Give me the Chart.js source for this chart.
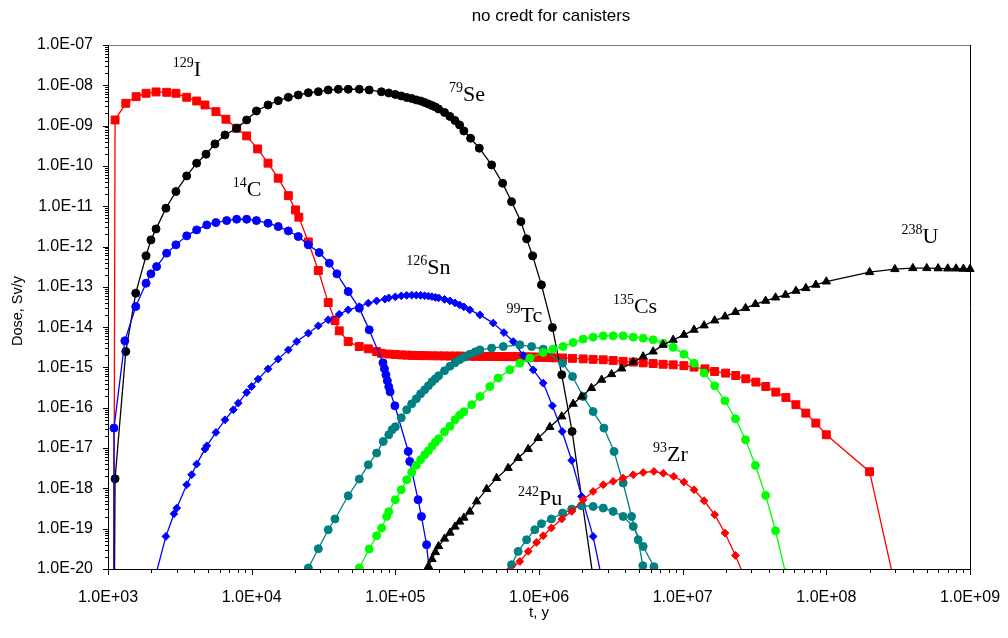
<!DOCTYPE html>
<html><head><meta charset="utf-8">
<script src="https://cdn.jsdelivr.net/npm/chart.js@4"></script>
<style>html,body{margin:0;padding:0;background:#fff}canvas{display:block}</style>
</head><body>
<canvas id="c" width="1008" height="638"></canvas>
<script>
const xTicks=[1e3,1e4,1e5,1e6,1e7,1e8,1e9];
const yTicks=[1e-20,1e-19,1e-18,1e-17,1e-16,1e-15,1e-14,1e-13,1e-12,1e-11,1e-10,1e-9,1e-8,1e-7];

const I_t=[1090,1120,1330,1570,1840,2160,2560,2970,3530,4140,4730,5640,6620,7860,9230,1.1e4,1.3e4,1.53e4,1.8e4,2.02e4,2.13e4,2.48e4,2.91e4,3.41e4,3.8e4,4.07e4,4.7e4,5.61e4,6.48e4,7.41e4,
8e4,9e4,1e5,1.1e5,1.2e5,1.3e5,1.4e5,1.5e5,1.6e5,1.8e5,2e5,2.2e5,2.4e5,2.6e5,2.8e5,3e5,3.3e5,3.6e5,4e5,4.4e5,4.8e5,5.2e5,5.6e5,6e5,6.5e5,7e5,7.5e5,8e5,8.5e5,9e5,9.5e5,1e6,1.1e6,1.2e6,1.3e6,
1.46e6,1.71e6,2.03e6,2.38e6,2.8e6,3.28e6,3.85e6,4.53e6,5.31e6,6.23e6,7.31e6,8.59e6,1.02e7,1.2e7,1.43e7,1.67e7,1.99e7,2.34e7,2.75e7,3.23e7,3.79e7,4.45e7,5.23e7,6.14e7,7.2e7,8.45e7,1e8,2e8,3e8];
const I_d=[1e-25,1.38e-9,3.58e-9,5.22e-9,6.34e-9,6.84e-9,6.71e-9,6.34e-9,5.05e-9,4.08e-9,3.25e-9,2.22e-9,1.44e-9,8.6e-10,5.55e-10,2.64e-10,1.17e-10,4.96e-11,1.83e-11,8.1e-12,5.35e-12,1.3e-12,2.54e-13,4.07e-14,1.46e-14,8.1e-15,4.4e-15,3.3e-15,2.9e-15,2.48e-15,
2.25e-15,2.15e-15,2.1e-15,2.05e-15,2.02e-15,2.0e-15,1.98e-15,1.97e-15,1.96e-15,1.95e-15,1.94e-15,1.93e-15,1.92e-15,1.92e-15,1.91e-15,1.9e-15,1.9e-15,1.89e-15,1.88e-15,1.88e-15,1.87e-15,1.87e-15,1.86e-15,1.86e-15,1.85e-15,1.85e-15,1.84e-15,1.83e-15,1.82e-15,1.81e-15,1.8e-15,1.79e-15,1.77e-15,1.75e-15,1.73e-15,
1.72e-15,1.68e-15,1.63e-15,1.59e-15,1.55e-15,1.49e-15,1.42e-15,1.36e-15,1.3e-15,1.25e-15,1.2e-15,1.16e-15,1.11e-15,1.02e-15,9.25e-16,7.94e-16,7.24e-16,6.31e-16,5.23e-16,4.33e-16,3.37e-16,2.45e-16,1.8e-16,1.19e-16,7.38e-17,4.17e-17,2.14e-17,2.59e-18,4e-21];

const Se_t=[1090,1120,1330,1560,1840,1990,2160,2530,2970,3530,4140,4810,5550,6520,7860,9230,1.08e4,1.3e4,1.53e4,1.8e4,2.11e4,2.48e4,2.91e4,3.41e4,4.01e4,4.7e4,5.61e4,6.58e4,
8e4,9e4,1e5,1.1e5,1.2e5,1.3e5,1.4e5,1.5e5,1.6e5,1.7e5,1.8e5,1.9e5,2e5,2.2e5,2.4e5,2.6e5,2.8e5,3e5,
3.34e5,3.84e5,4.68e5,5.58e5,6.44e5,7.48e5,8.2e5,9.03e5,1.04e6,1.24e6,1.44e6,1.7e6,2.5e6];
const Se_d=[1e-25,1.73e-18,2.48e-15,6.97e-14,5.86e-13,1.46e-12,2.74e-12,8.93e-12,2.31e-11,5.65e-11,1.17e-10,1.95e-10,3.51e-10,5.86e-10,8.6e-10,1.38e-9,2.31e-9,3.25e-9,4.16e-9,5.05e-9,5.75e-9,6.56e-9,6.95e-9,7.66e-9,7.98e-9,7.98e-9,7.98e-9,7.66e-9,
6.91e-9,6.46e-9,5.93e-9,5.44e-9,4.99e-9,4.71e-9,4.33e-9,4.09e-9,3.75e-9,3.44e-9,3.16e-9,2.9e-9,2.59e-9,2.12e-9,1.69e-9,1.34e-9,1.04e-9,7.37e-10,
4.86e-10,2.75e-10,1.06e-10,3.72e-11,1.3e-11,4.16e-12,1.55e-12,5.86e-13,1.12e-13,9.77e-15,6.58e-16,2.58e-17,1.8e-21];

const C_t=[1090,1100,1310,1560,1840,1990,2180,2560,2970,3530,4140,4870,5640,6700,7860,9230,1.08e4,1.3e4,1.53e4,1.8e4,2.11e4,2.48e4,2.95e4,3.47e4,3.92e4,4.7e4,5.61e4,6.58e4,8.2e4,8.4e4,8.6e4,8.8e4,9e4,9.2e4,9.93e4,1.23e5,1.26e5,1.44e5,1.52e5,1.65e5,1.8e5];
const C_d=[1e-25,3.13e-17,4.58e-15,3.24e-14,1.23e-13,2.1e-13,3.18e-13,6.84e-13,1.1e-12,1.84e-12,2.59e-12,3.44e-12,3.93e-12,4.4e-12,4.76e-12,4.76e-12,4.4e-12,3.79e-12,3.13e-12,2.44e-12,1.77e-12,1.1e-12,7.08e-13,3.86e-13,2.1e-13,7.64e-14,2.96e-14,8.57e-15,1.3e-15,9.25e-16,6.58e-16,4.67e-16,3.31e-16,2.49e-16,1.12e-16,8.24e-18,4.66e-18,5.22e-19,2.01e-19,4e-20,2e-21];

const Sn_t=[2e3,2.53e3,2.88e3,3.01e3,3.53e3,3.82e3,4.14e3,4.73e3,4.87e3,5.64e3,6.52e3,7.45e3,8.07e3,9.23e3,1e4,1.11e4,1.3e4,1.53e4,1.8e4,2.06e4,2.48e4,2.91e4,3.41e4,4.07e4,4.7e4,5.61e4,6.48e4,7.41e4,8.47e4,
9e4,1e5,1.1e5,1.2e5,1.3e5,1.4e5,1.5e5,1.6e5,1.7e5,1.8e5,1.9e5,2e5,2.2e5,2.4e5,2.6e5,2.8e5,3e5,3.3e5,
3.88e5,4.8e5,5.7e5,6.61e5,7.78e5,9.11e5,1.07e6,1.24e6,1.45e6,1.69e6,1.98e6,2.38e6,2.8e6];
const Sn_d=[2.7e-21,6.43e-20,2.35e-19,3.25e-19,1.23e-18,2.18e-18,4.01e-18,9.44e-18,1.14e-17,2.44e-17,5.03e-17,8.91e-17,1.31e-16,2.39e-16,3.37e-16,5.14e-16,9.25e-16,1.61e-15,2.73e-15,4.4e-15,7.09e-15,1.08e-14,1.52e-14,2.1e-14,2.69e-14,3.24e-14,3.94e-14,4.49e-14,4.95e-14,
5.33e-14,5.65e-14,5.98e-14,6.15e-14,6.22e-14,6.22e-14,6.15e-14,6.04e-14,5.87e-14,5.71e-14,5.48e-14,5.33e-14,4.89e-14,4.49e-14,4.01e-14,3.57e-14,3.19e-14,2.69e-14,
2.02e-14,1.26e-14,7.34e-15,4.4e-15,2.0e-15,8.73e-16,4.09e-16,1.12e-16,2.58e-17,4.93e-18,6.31e-19,6.43e-20,3.9e-21];

const Tc_t=[2.2e4,2.48e4,2.91e4,3.41e4,3.8e4,4.7e4,5.61e4,6.48e4,7.41e4,8.24e4,9e4,9.5e4,1e5,1.1e5,1.2e5,1.3e5,1.4e5,1.5e5,1.6e5,1.7e5,1.8e5,1.9e5,2e5,2.2e5,2.4e5,2.6e5,2.8e5,3e5,3.3e5,3.6e5,3.88e5,4.68e5,5.64e5,7.36e5,8.88e5,1.07e6,1.46e6,1.71e6,2.03e6,2.38e6,2.83e6,3.33e6,3.85e6,4.41e6,4.9e6,5.28e6,6e6];
const Tc_d=[1e-21,1.06e-20,3.18e-20,9.42e-20,1.74e-19,6.56e-19,1.7e-18,3.85e-18,7.52e-18,1.46e-17,2.14e-17,2.85e-17,3.37e-17,5.64e-17,8.91e-17,1.25e-16,1.67e-16,2.22e-16,2.79e-16,3.51e-16,4.41e-16,5.23e-16,6.21e-16,8.26e-16,1.07e-15,1.3e-15,1.55e-15,1.78e-15,2.12e-15,2.44e-15,2.73e-15,3.02e-15,3.3e-15,3.64e-15,3.3e-15,2.85e-15,1.28e-15,5.96e-16,1.9e-16,8.07e-17,3.13e-17,8.24e-18,1.36e-18,2.01e-19,5.32e-20,1.21e-20,1e-22];

const Cs_t=[5e4,5.61e4,6.58e4,7.41e4,8.03e4,8.7e4,9e4,1e5,1.1e5,1.2e5,1.3e5,1.4e5,1.5e5,1.6e5,1.7e5,1.8e5,1.9e5,2e5,2.2e5,2.4e5,2.6e5,2.8e5,3e5,3.4e5,3.88e5,4.55e5,5.2e5,6.27e5,7.36e5,8.64e5,1.07e6,1.25e6,1.47e6,1.73e6,2.03e6,2.38e6,2.8e6,3.28e6,3.85e6,4.53e6,5.31e6,6.23e6,7.31e6,8.59e6,1.02e7,1.2e7,1.41e7,1.67e7,1.97e7,2.33e7,2.74e7,3.21e7,3.78e7,4.43e7,5.2e7];
const Cs_d=[1e-21,1.06e-20,3.13e-20,6.68e-20,1.04e-19,2.01e-19,2.64e-19,5.23e-19,9.25e-19,1.64e-18,2.51e-18,3.74e-18,5.13e-18,6.82e-18,8.57e-18,1.11e-17,1.39e-17,1.7e-17,2.54e-17,3.47e-17,5.04e-17,6.5e-17,7.94e-17,1.19e-16,1.9e-16,3.37e-16,5.44e-16,8.74e-16,1.28e-15,1.71e-15,2.35e-15,2.85e-15,3.3e-15,4.15e-15,5.05e-15,5.65e-15,6.09e-15,6.09e-15,6.09e-15,5.65e-15,5.33e-15,4.84e-15,4.01e-15,3.16e-15,2.14e-15,1.28e-15,7.24e-16,3.51e-16,1.49e-16,5.33e-17,1.61e-17,3.71e-18,6.68e-19,8.9e-20,8e-21];

const U_t=[1.6e5,1.7e5,1.8e5,1.9e5,2e5,2.2e5,2.4e5,2.6e5,2.8e5,3e5,3.3e5,3.68e5,4.32e5,5.07e5,6.1e5,7.16e5,8.41e5,9.87e5,1.19e6,1.44e6,1.73e6,1.98e6,2.32e6,2.73e6,3.2e6,3.76e6,4.53e6,5.31e6,6.23e6,7.31e6,8.59e6,1.02e7,1.2e7,1.41e7,1.67e7,1.97e7,2.33e7,2.74e7,3.21e7,3.78e7,4.43e7,5.2e7,6.14e7,7.2e7,8.45e7,1e8,2e8,3e8,4e8,5e8,6e8,7e8,8e8,9e8,1e9];
const U_d=[7.6e-21,1.17e-20,1.75e-20,2.61e-20,3.67e-20,5.64e-20,7.94e-20,1.12e-19,1.49e-19,1.87e-19,2.64e-19,4.74e-19,9.61e-19,1.8e-18,3.19e-18,5.65e-18,9.44e-18,1.77e-17,3.32e-17,6.08e-17,1.25e-16,1.9e-16,3.08e-16,4.94e-16,6.8e-16,9.4e-16,1.36e-15,1.87e-15,2.48e-15,3.64e-15,4.84e-15,6.44e-15,8.57e-15,1.1e-14,1.46e-14,1.83e-14,2.36e-14,2.96e-14,3.72e-14,4.49e-14,5.42e-14,6.32e-14,7.94e-14,9.27e-14,1.12e-13,1.35e-13,2.31e-13,2.74e-13,2.9e-13,2.9e-13,2.87e-13,2.84e-13,2.84e-13,2.79e-13,2.76e-13];

const Pu_t=[6e5,6.44e5,7.16e5,8.2e5,9.35e5,1.04e6,1.22e6,1.46e6,1.69e6,1.98e6,2.38e6,2.8e6,3.28e6,3.85e6,4.53e6,5.31e6,6.31e6,7e6];
const Pu_d=[4e-21,1.28e-20,2.73e-20,5.32e-20,9.42e-20,1.33e-19,1.74e-19,2.44e-19,3.07e-19,3.71e-19,3.56e-19,3.25e-19,2.68e-19,2.01e-19,1.14e-19,3.63e-20,1.14e-20,1e-22];

const Zr_t=[5.5e5,6.1e5,7.36e5,8.41e5,9.61e5,1.07e6,1.22e6,1.44e6,1.69e6,2.03e6,2.38e6,2.8e6,3.28e6,3.85e6,4.53e6,5.31e6,6.31e6,7.33e6,8.67e6,1.02e7,1.2e7,1.41e7,1.67e7,1.97e7,2.33e7,2.74e7];
const Zr_d=[1e-21,8.7e-21,1.54e-20,2.73e-20,4.56e-20,6.68e-20,1.04e-19,1.74e-19,2.68e-19,5.22e-19,8.39e-19,1.23e-18,1.49e-18,1.8e-18,2.18e-18,2.48e-18,2.63e-18,2.37e-18,1.98e-18,1.44e-18,9.25e-19,4.93e-19,2.22e-19,7.8e-20,2.17e-20,5.4e-21];

const labelSup=['129','14','79','126','99','135','93','242','238'];
const labelMain=['I','C','Se','Sn','Tc','Cs','Zr','Pu','U'];
const labelT=[2.82e3,7.38e3,2.36e5,1.19e5,5.95e5,3.27e6,6.21e6,7.13e5,3.33e8];
const labelD=[1.70e-8,1.83e-11,4.16e-9,2.10e-13,1.38e-14,2.22e-14,4.66e-18,3.93e-19,1.25e-12];

const series=[
 {name:'129I',t:I_t,d:I_d,color:'#ff0000',style:'rect',r:5.6},
 {name:'79Se',t:Se_t,d:Se_d,color:'#000000',style:'circle',r:4},
 {name:'14C',t:C_t,d:C_d,color:'#0000ff',style:'circle',r:4},
 {name:'126Sn',t:Sn_t,d:Sn_d,color:'#0000ff',style:'rectRot',r:3.9},
 {name:'99Tc',t:Tc_t,d:Tc_d,color:'#008080',style:'circle',r:4},
 {name:'135Cs',t:Cs_t,d:Cs_d,color:'#00ff00',style:'circle',r:4},
 {name:'238U',t:U_t,d:U_d,color:'#000000',style:'triangle',r:4.8},
 {name:'242Pu',t:Pu_t,d:Pu_d,color:'#008080',style:'circle',r:4},
 {name:'93Zr',t:Zr_t,d:Zr_d,color:'#ff0000',style:'rectRot',r:3.9}
];

function fmt(v){const e=Math.round(Math.log10(v));return '1.0E'+(e<0?'-':'+')+String(Math.abs(e)).padStart(2,'0');}

const decor={id:'decor',afterDraw(chart){
 const ctx=chart.ctx,a=chart.chartArea,xs=chart.scales.x,ys=chart.scales.y;
 ctx.save();
 ctx.lineWidth=1;
 ctx.strokeStyle='#808080';
 ctx.beginPath();ctx.moveTo(a.left,a.top+0.5);ctx.lineTo(a.right,a.top+0.5);ctx.stroke();
 ctx.strokeStyle='#000';
 ctx.beginPath();
 ctx.moveTo(a.left+0.5,a.top);ctx.lineTo(a.left+0.5,a.bottom+0.5);
 ctx.lineTo(a.right+0.5,a.bottom+0.5);ctx.lineTo(a.right+0.5,a.top);
 ctx.stroke();
 ctx.beginPath();
 for(let i=0;i<xTicks.length;i++){
  const v=xTicks[i];const px=Math.round(xs.getPixelForValue(v))+0.5;
  ctx.moveTo(px,a.bottom);ctx.lineTo(px,a.bottom+6);
  if(i<xTicks.length-1){for(let k=2;k<10;k++){const p=Math.round(xs.getPixelForValue(v*k))+0.5;ctx.moveTo(p,a.bottom);ctx.lineTo(p,a.bottom+4);}}
 }
 for(let i=0;i<yTicks.length;i++){
  const v=yTicks[i];const py=Math.round(ys.getPixelForValue(v))+0.5;
  ctx.moveTo(a.left-5,py);ctx.lineTo(a.left,py);
  if(i<yTicks.length-1){for(let k=2;k<10;k++){const p=Math.round(ys.getPixelForValue(v*k))+0.5;ctx.moveTo(a.left-3,p);ctx.lineTo(a.left,p);}}
 }
 ctx.stroke();
 ctx.fillStyle='#000';ctx.textBaseline='alphabetic';ctx.textAlign='left';
 for(let i=0;i<labelSup.length;i++){
  const x=xs.getPixelForValue(labelT[i]),y=ys.getPixelForValue(labelD[i]);
  ctx.font='14px "Liberation Serif", "Times New Roman", serif';
  ctx.fillText(labelSup[i],x,y-9);
  const w=ctx.measureText(labelSup[i]).width;
  ctx.font='22px "Liberation Serif", "Times New Roman", serif';
  ctx.fillText(labelMain[i],x+w,y);
 }
 ctx.font='17px "Liberation Sans", Arial, sans-serif';ctx.textAlign='center';
 ctx.fillText('no credt for canisters',551,21);
 ctx.font='15px "Liberation Sans", Arial, sans-serif';
 ctx.fillText('t, y',(a.left+a.right)/2,617);
 ctx.translate(21.5,311);ctx.rotate(-Math.PI/2);
 ctx.font='14.5px "Liberation Sans", Arial, sans-serif';
 ctx.fillText('Dose, Sv/y',0,0);
 ctx.restore();
}};

new Chart(document.getElementById('c'),{
 type:'line',
 data:{datasets:series.map((s,i)=>({
  label:s.name,
  data:s.t.map((t,j)=>({x:t,y:s.d[j]})),
  borderColor:s.color,backgroundColor:s.color,
  pointBackgroundColor:s.color,pointBorderColor:s.color,
  pointStyle:s.style,pointRadius:s.r,pointBorderWidth:1,
  borderWidth:1.3,tension:0,order:-i,
  clip:{left:8,right:8,top:8,bottom:0}
 }))},
 options:{
  responsive:false,animation:false,events:[],devicePixelRatio:1,
  layout:{padding:{left:0,right:38,top:45,bottom:0}},
  plugins:{legend:{display:false},title:{display:false},tooltip:{enabled:false}},
  scales:{
   x:{type:'logarithmic',min:1e3,max:1e9,
    afterBuildTicks:s=>{s.ticks=xTicks.map(v=>({value:v}));},
    afterFit:s=>{s.height=69;s.paddingLeft=0;s.paddingRight=0;},
    grid:{display:false,drawTicks:false},border:{display:false},
    ticks:{autoSkip:false,maxRotation:0,minRotation:0,padding:19,color:'#000',
     font:{family:'"Liberation Sans", Arial, sans-serif',size:16},callback:v=>fmt(v)}},
   y:{type:'logarithmic',min:1e-20,max:1e-7,
    afterBuildTicks:s=>{s.ticks=yTicks.map(v=>({value:v}));},
    afterFit:s=>{s.width=108;s.paddingTop=0;s.paddingBottom=0;},
    grid:{display:false,drawTicks:false},border:{display:false},
    ticks:{autoSkip:false,padding:15,color:'#000',
     font:{family:'"Liberation Sans", Arial, sans-serif',size:16},callback:v=>fmt(v)}}
  }
 },
 plugins:[decor]
});
</script>
</body></html>
